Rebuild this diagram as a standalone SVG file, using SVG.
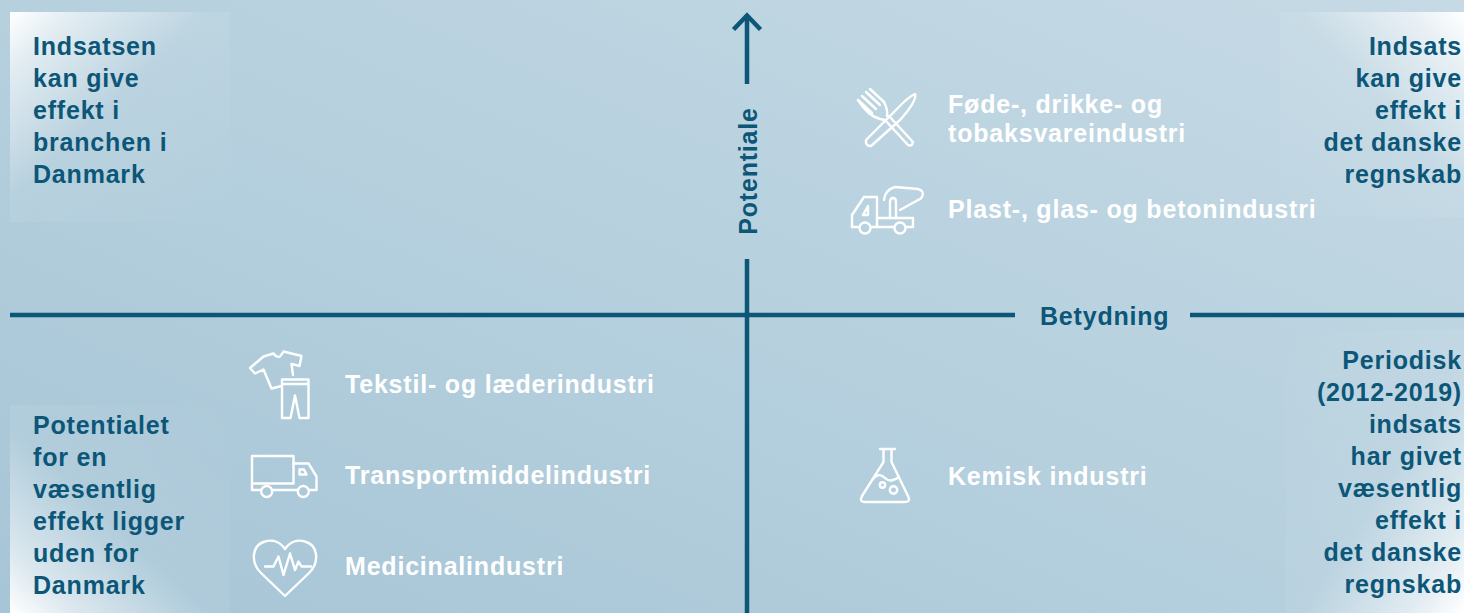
<svg xmlns="http://www.w3.org/2000/svg" width="1464" height="613" viewBox="0 0 1464 613">
  <defs>
    <linearGradient id="bg" x1="0" y1="1" x2="1" y2="0">
      <stop offset="0" stop-color="#a6c5d6"/>
      <stop offset="0.5" stop-color="#b6d0de"/>
      <stop offset="1" stop-color="#c6dae5"/>
    </linearGradient>
    <linearGradient id="gTL" x1="0" y1="0" x2="1" y2="1">
      <stop offset="0" stop-color="#fff" stop-opacity="1"/>
      <stop offset="0.15" stop-color="#fff" stop-opacity="0.6"/>
      <stop offset="0.45" stop-color="#fff" stop-opacity="0.08"/>
      <stop offset="1" stop-color="#fff" stop-opacity="0"/>
    </linearGradient>
    <linearGradient id="gTR" x1="1" y1="0" x2="0" y2="1">
      <stop offset="0" stop-color="#fff" stop-opacity="1"/>
      <stop offset="0.15" stop-color="#fff" stop-opacity="0.6"/>
      <stop offset="0.45" stop-color="#fff" stop-opacity="0.08"/>
      <stop offset="1" stop-color="#fff" stop-opacity="0"/>
    </linearGradient>
    <linearGradient id="gBR" x1="1" y1="1" x2="0" y2="0">
      <stop offset="0" stop-color="#fff" stop-opacity="1"/>
      <stop offset="0.15" stop-color="#fff" stop-opacity="0.6"/>
      <stop offset="0.45" stop-color="#fff" stop-opacity="0.08"/>
      <stop offset="1" stop-color="#fff" stop-opacity="0"/>
    </linearGradient>
    <linearGradient id="gBL" x1="0" y1="1" x2="1" y2="0">
      <stop offset="0" stop-color="#fff" stop-opacity="1"/>
      <stop offset="0.15" stop-color="#fff" stop-opacity="0.6"/>
      <stop offset="0.45" stop-color="#fff" stop-opacity="0.08"/>
      <stop offset="1" stop-color="#fff" stop-opacity="0"/>
    </linearGradient>
    <style>
      .t{font-family:"Liberation Sans",Arial,sans-serif;font-weight:bold;font-size:25px;letter-spacing:0.8px}
      .dk{fill:#0c5678}
      .wt{fill:#ffffff}
      .end{text-anchor:end}
      .ax{stroke:#0c5678;stroke-width:4.5;fill:none}
      .ic{fill:none;stroke:#ffffff;stroke-width:2.4;stroke-linejoin:round;stroke-linecap:round}
    </style>
  </defs>

  <rect width="1464" height="613" fill="url(#bg)"/>
  <rect x="10" y="12" width="220" height="210" fill="url(#gTL)"/>
  <rect x="1280" y="12" width="184" height="205" fill="url(#gTR)"/>
  <rect x="1285" y="330" width="179" height="283" fill="url(#gBR)"/>
  <rect x="10" y="405" width="220" height="208" fill="url(#gBL)"/>

  <g id="connectors">
    <path class="ax" d="M747,15 V84 M747,259 V613"/>
    <path class="ax" d="M733.5,29.5 L747,15.5 L760.5,29.5"/>
    <path class="ax" d="M10,315 H1015 M1190,315 H1464"/>
  </g>

  <g id="axis-potentiale">
    <text class="t dk" text-anchor="middle" transform="translate(757,171) rotate(-90)">Potentiale</text>
  </g>
  <g id="axis-betydning">
    <text class="t dk" x="1040" y="325">Betydning</text>
  </g>

  <g id="quadrant-top-left">
    <text class="t dk" x="33" y="55">Indsatsen</text>
    <text class="t dk" x="33" y="87">kan give</text>
    <text class="t dk" x="33" y="119">effekt i</text>
    <text class="t dk" x="33" y="151">branchen i</text>
    <text class="t dk" x="33" y="183">Danmark</text>
  </g>

  <g id="quadrant-top-right">
    <text class="t dk end" x="1462" y="55">Indsats</text>
    <text class="t dk end" x="1462" y="87">kan give</text>
    <text class="t dk end" x="1462" y="119">effekt i</text>
    <text class="t dk end" x="1462" y="151">det danske</text>
    <text class="t dk end" x="1462" y="183">regnskab</text>
  </g>

  <g id="quadrant-bottom-left">
    <text class="t dk" x="33" y="434">Potentialet</text>
    <text class="t dk" x="33" y="466">for en</text>
    <text class="t dk" x="33" y="498">væsentlig</text>
    <text class="t dk" x="33" y="530">effekt ligger</text>
    <text class="t dk" x="33" y="562">uden for</text>
    <text class="t dk" x="33" y="594">Danmark</text>
  </g>

  <g id="quadrant-bottom-right">
    <text class="t dk end" x="1462" y="369">Periodisk</text>
    <text class="t dk end" x="1462" y="401">(2012-2019)</text>
    <text class="t dk end" x="1462" y="433">indsats</text>
    <text class="t dk end" x="1462" y="465">har givet</text>
    <text class="t dk end" x="1462" y="497">væsentlig</text>
    <text class="t dk end" x="1462" y="529">effekt i</text>
    <text class="t dk end" x="1462" y="561">det danske</text>
    <text class="t dk end" x="1462" y="593">regnskab</text>
  </g>

  <g id="node-foede">
    <g class="ic">
      <path d="M858,100 L872,113 M862,96 L876,109 M866,92 L880,105 M870,89 L884,102"/>
      <path d="M858,100 Q868,116 880,119 L885,120 M884,102 Q888,110 887,116"/>
      <path d="M885,120 L908,145 Q912,147 913,142 L889,116"/>
      <path d="M866,140 L896,110 Q908,97 915,94 Q917,99 906,113 L900,120 L871,146 Q865,146 866,140 Z"/>
    </g>
    <text class="t wt" x="948" y="113">Føde-, drikke- og</text>
    <text class="t wt" x="948" y="142">tobaksvareindustri</text>
  </g>

  <g id="node-plast">
    <g class="ic">
      <path d="M852,227 L852,215 L864,197 L877,197 L877,227"/>
      <path d="M863,215 L868,206 L868,215 Z"/>
      <path d="M877,218 H913 V227 H906 M894,227 H871 M859,227 H852"/>
      <circle cx="865" cy="228" r="5.5"/>
      <circle cx="900" cy="228" r="5.5"/>
      <path d="M890,218 V202 Q890,198 893,198 Q896,198 896,202 V218"/>
      <path d="M884,200 Q885,190 895,187 L918,189 Q925,191 922,197 Q921,199 918,200 L900,210"/>
    </g>
    <text class="t wt" x="948" y="218">Plast-, glas- og betonindustri</text>
  </g>

  <g id="node-tekstil">
    <g class="ic">
      <path d="M281.5,386 L271.5,388.5 L263.5,369.5 L255,373.5 L250,368 L263.5,356.5 L273.5,353.5 Q277,358 280,356.5 Q282,354 283.5,351.5 L301.5,356 L299.5,366 L291.5,364 L293,375"/>
      <path d="M282,379.5 H308.5 V418 H299.5 L295,395.5 L290.5,418 H282 Z M282,384 H308.5"/>
    </g>
    <text class="t wt" x="345" y="393">Tekstil- og læderindustri</text>
  </g>

  <g id="node-transport">
    <g class="ic">
      <rect x="252" y="456" width="41.5" height="27.5"/>
      <path d="M293.5,463.5 H308.5 L316.5,476.5 V490 H309 M297.5,490 H272.5 M261,490 H252 V483.5"/>
      <path d="M299.5,469.5 L304,469.5 L306.5,474.5 L299.5,474.5 Z"/>
      <circle cx="266.7" cy="491.5" r="5.5"/>
      <circle cx="303.3" cy="491.5" r="5.5"/>
    </g>
    <text class="t wt" x="345" y="484">Transportmiddelindustri</text>
  </g>

  <g id="node-medicinal">
    <g class="ic">
      <path d="M285,596 L261,573 C250,562 252,545 265,541.5 C274,539 281,543 285,549 C289,543 296,539 305,541.5 C318,545 320,562 309,573 Z"/>
      <path d="M265,566.5 H273.5 L278.5,556.5 L283.5,575 L290,553.5 L295,570 L298.5,561.5 L301.5,566.5 H311"/>
    </g>
    <text class="t wt" x="345" y="575">Medicinalindustri</text>
  </g>

  <g id="node-kemisk">
    <g class="ic">
      <path d="M880,449 H895 M883.5,449 V462 L862,496 Q859,502 865,502 H905 Q911,502 908,496 L891.5,462 V449"/>
      <path d="M873,479 C877,474 881,474 885,478 S893,481 899,477"/>
      <circle cx="882.5" cy="485" r="2.7"/>
      <circle cx="893.5" cy="490" r="3.7"/>
    </g>
    <text class="t wt" x="948" y="485">Kemisk industri</text>
  </g>
</svg>
